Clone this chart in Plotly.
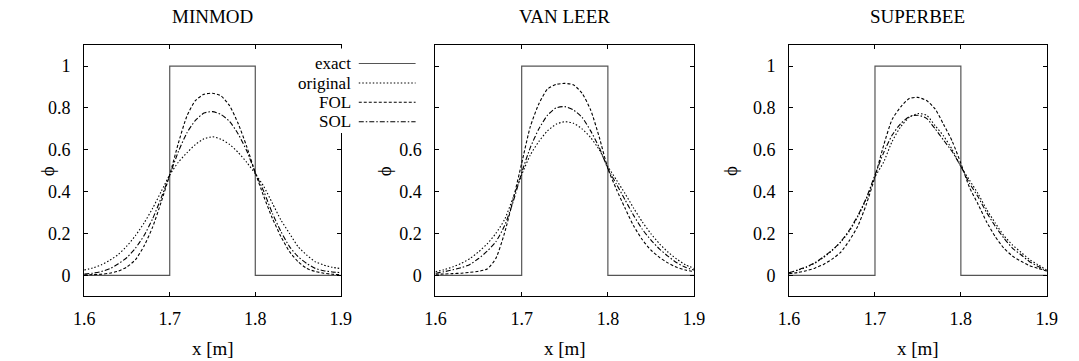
import plotly.graph_objects as go

# ---------------- data ----------------
X = [1.60, 1.61, 1.62, 1.63, 1.64, 1.65, 1.66, 1.67, 1.68, 1.69, 1.70,
     1.71, 1.72, 1.73, 1.74, 1.75, 1.76, 1.77, 1.78, 1.79, 1.80,
     1.81, 1.82, 1.83, 1.84, 1.85, 1.86, 1.87, 1.88, 1.89, 1.90]

X_EXACT = [1.6, 1.7, 1.7, 1.8, 1.8, 1.9]
Y_EXACT = [0, 0, 1, 1, 0, 0]

# MINMOD
MINMOD_ORIG = [0.025, 0.035, 0.05, 0.072, 0.10, 0.14, 0.19, 0.25, 0.32, 0.40, 0.48,
               0.54, 0.585, 0.625, 0.652, 0.662, 0.65, 0.625, 0.587, 0.54, 0.485,
               0.424, 0.344, 0.264, 0.20, 0.137, 0.097, 0.065, 0.049, 0.038, 0.032]
MINMOD_FOL = [0.002, 0.003, 0.005, 0.01, 0.02, 0.04, 0.075, 0.14, 0.23, 0.35, 0.48,
              0.63, 0.76, 0.835, 0.865, 0.87, 0.857, 0.81, 0.725, 0.615, 0.49,
              0.376, 0.272, 0.185, 0.113, 0.065, 0.033, 0.018, 0.01, 0.005, 0.003]
MINMOD_SOL = [0.006, 0.01, 0.018, 0.032, 0.055, 0.085, 0.13, 0.19, 0.27, 0.37, 0.48,
              0.59, 0.68, 0.74, 0.775, 0.782, 0.768, 0.735, 0.675, 0.595, 0.49,
              0.40, 0.296, 0.209, 0.137, 0.089, 0.057, 0.033, 0.022, 0.016, 0.013]

# VAN LEER
VANLEER_ORIG = [0.017, 0.027, 0.04, 0.057, 0.08, 0.112, 0.15, 0.20, 0.265, 0.37, 0.48,
                0.575, 0.64, 0.69, 0.722, 0.734, 0.727, 0.70, 0.658, 0.60, 0.52,
                0.455, 0.39, 0.32, 0.255, 0.198, 0.15, 0.11, 0.077, 0.05, 0.033]
VANLEER_FOL = [0.005, 0.006, 0.008, 0.01, 0.014, 0.019, 0.03, 0.08, 0.20, 0.36, 0.535,
               0.71, 0.82, 0.89, 0.912, 0.917, 0.91, 0.87, 0.79, 0.66, 0.51,
               0.41, 0.32, 0.235, 0.17, 0.12, 0.085, 0.058, 0.038, 0.025, 0.017]
VANLEER_SOL = [0.01, 0.017, 0.026, 0.036, 0.052, 0.08, 0.115, 0.16, 0.235, 0.35, 0.49,
               0.61, 0.70, 0.765, 0.80, 0.806, 0.79, 0.755, 0.69, 0.61, 0.51,
               0.435, 0.36, 0.285, 0.22, 0.168, 0.125, 0.09, 0.06, 0.038, 0.025]

# SUPERBEE
SUPERBEE_ORIG = [0.012, 0.024, 0.038, 0.058, 0.085, 0.118, 0.158, 0.21, 0.28, 0.365, 0.47,
                 0.54, 0.64, 0.71, 0.755, 0.773, 0.765, 0.715, 0.665, 0.60, 0.52,
                 0.455, 0.39, 0.315, 0.25, 0.19, 0.145, 0.11, 0.075, 0.05, 0.025]
SUPERBEE_FOL = [0.008, 0.013, 0.022, 0.034, 0.052, 0.077, 0.11, 0.165, 0.235, 0.34, 0.47,
                0.62, 0.745, 0.805, 0.845, 0.85, 0.835, 0.795, 0.72, 0.64, 0.535,
                0.42, 0.34, 0.255, 0.185, 0.13, 0.092, 0.067, 0.046, 0.033, 0.02]
SUPERBEE_SOL = [0.012, 0.025, 0.04, 0.06, 0.088, 0.12, 0.16, 0.215, 0.285, 0.37, 0.48,
                0.585, 0.67, 0.725, 0.758, 0.765, 0.75, 0.70, 0.645, 0.59, 0.52,
                0.44, 0.375, 0.30, 0.235, 0.178, 0.13, 0.098, 0.065, 0.042, 0.02]

TITLES = ["MINMOD", "VAN LEER", "SUPERBEE"]
SERIES_NAMES = ["exact", "original", "FOL", "SOL"]
X_TICKS = [1.6, 1.7, 1.8, 1.9]
X_TICKTEXT = ["1.6", "1.7", "1.8", "1.9"]
Y_TICKS = [0, 0.2, 0.4, 0.6, 0.8, 1]
Y_TICKTEXT = ["0", "0.2", "0.4", "0.6", "0.8", "1"]
Y_TICKTEXT_MID = ["0", "0.2", "0.4", "0.6", "", ""]
X_LABEL = "x [m]"
Y_LABEL = "ϕ"

PANELS = [
    (MINMOD_ORIG, MINMOD_FOL, MINMOD_SOL),
    (VANLEER_ORIG, VANLEER_FOL, VANLEER_SOL),
    (SUPERBEE_ORIG, SUPERBEE_FOL, SUPERBEE_SOL),
]

# ---------------- styling ----------------
W, H = 1079, 361
FONT = "Liberation Serif, Times New Roman, Times, DejaVu Serif, serif"
EXACT_COLOR = "#555555"
CURVE_COLOR = "#000000"
DASHES = {"original": "1.5px,2px", "FOL": "3px,2px", "SOL": "5px,2px,1.5px,2px"}

X_DOMAINS = [(74.7 / W, 336.7 / W), (433.3 / W, 697.3 / W), (794.3 / W, 1057.3 / W)]
Y_DOMAIN = (1 - 296.2 / H, 1 - 45.1 / H)
YLABEL_PX = [38, 382, 735]

fig = go.Figure()

for i, (orig, fol, sol) in enumerate(PANELS):
    sfx = "" if i == 0 else str(i + 1)
    xa, ya = "x" + sfx, "y" + sfx
    fig.add_trace(go.Scatter(x=X_EXACT, y=Y_EXACT, mode="lines", xaxis=xa, yaxis=ya,
                             line=dict(color=EXACT_COLOR, width=1.2), showlegend=False))
    for name, ys in (("original", orig), ("FOL", fol), ("SOL", sol)):
        fig.add_trace(go.Scatter(x=X, y=ys, mode="lines", xaxis=xa, yaxis=ya,
                                 line=dict(color=CURVE_COLOR, width=1.1, dash=DASHES[name],
                                           shape="spline", smoothing=0.6),
                                 showlegend=False))

layout = dict(
    width=W, height=H,
    margin=dict(l=0, r=0, t=0, b=0),
    paper_bgcolor="white", plot_bgcolor="white",
    font=dict(family=FONT, color="black", size=18),
    showlegend=False,
)

axis_common = dict(showgrid=False, zeroline=False, showline=True, linecolor="black",
                   linewidth=1, ticks="inside", ticklen=4, tickwidth=1, tickcolor="black",
                   mirror="ticks", tickfont=dict(family=FONT, size=18, color="black"))

for i in range(3):
    sfx = "" if i == 0 else str(i + 1)
    layout["xaxis" + sfx] = dict(axis_common, domain=list(X_DOMAINS[i]), range=[1.6, 1.9],
                                 tickvals=X_TICKS, ticktext=X_TICKTEXT,
                                 anchor="y" + sfx, ticklabelstandoff=6)
    layout["yaxis" + sfx] = dict(axis_common, domain=list(Y_DOMAIN), range=[-0.1, 1.1],
                                 tickvals=Y_TICKS,
                                 ticktext=Y_TICKTEXT_MID if i == 1 else Y_TICKTEXT,
                                 anchor="x" + sfx, ticklabelstandoff=9)

fig.update_layout(**layout)

annotations = []
shapes = []
for i in range(3):
    cx = (X_DOMAINS[i][0] + X_DOMAINS[i][1]) / 2
    annotations.append(dict(text=TITLES[i], x=cx, y=1 - 16.7 / H, xref="paper", yref="paper",
                            showarrow=False, xanchor="center", yanchor="middle",
                            font=dict(family=FONT, size=19)))
    annotations.append(dict(text=X_LABEL, x=cx, y=1 - 348 / H, xref="paper", yref="paper",
                            showarrow=False, xanchor="center", yanchor="middle",
                            font=dict(family=FONT, size=19)))
    annotations.append(dict(text=Y_LABEL, x=YLABEL_PX[i] / W, y=1 - 171 / H, xref="paper",
                            yref="paper", showarrow=False, xanchor="center", yanchor="middle",
                            textangle=-90, font=dict(family=FONT, size=19)))

# white key box hiding part of the first panel's right border
shapes.append(dict(type="rect", xref="paper", yref="paper",
                   x0=320 / W, x1=345 / W, y0=1 - 133 / H, y1=1 - 48.5 / H,
                   fillcolor="white", line=dict(width=0), layer="above"))

# key (legend)
KEY_ROWS_PX = [63.5, 83, 102.3, 121.7]
for name, py in zip(SERIES_NAMES, KEY_ROWS_PX):
    annotations.append(dict(text=name, x=348 / W, y=1 - py / H, xref="paper", yref="paper",
                            showarrow=False, xanchor="right", yanchor="middle", borderpad=0,
                            font=dict(family=FONT, size=17)))
    if name == "exact":
        ln = dict(color=EXACT_COLOR, width=1.2)
    else:
        ln = dict(color=CURVE_COLOR, width=1.1, dash=DASHES[name])
    shapes.append(dict(type="line", xref="paper", yref="paper",
                       x0=355 / W, x1=413 / W, y0=1 - py / H, y1=1 - py / H,
                       line=ln, layer="above"))

fig.update_layout(annotations=annotations, shapes=shapes)
fig.write_html("out.html")
